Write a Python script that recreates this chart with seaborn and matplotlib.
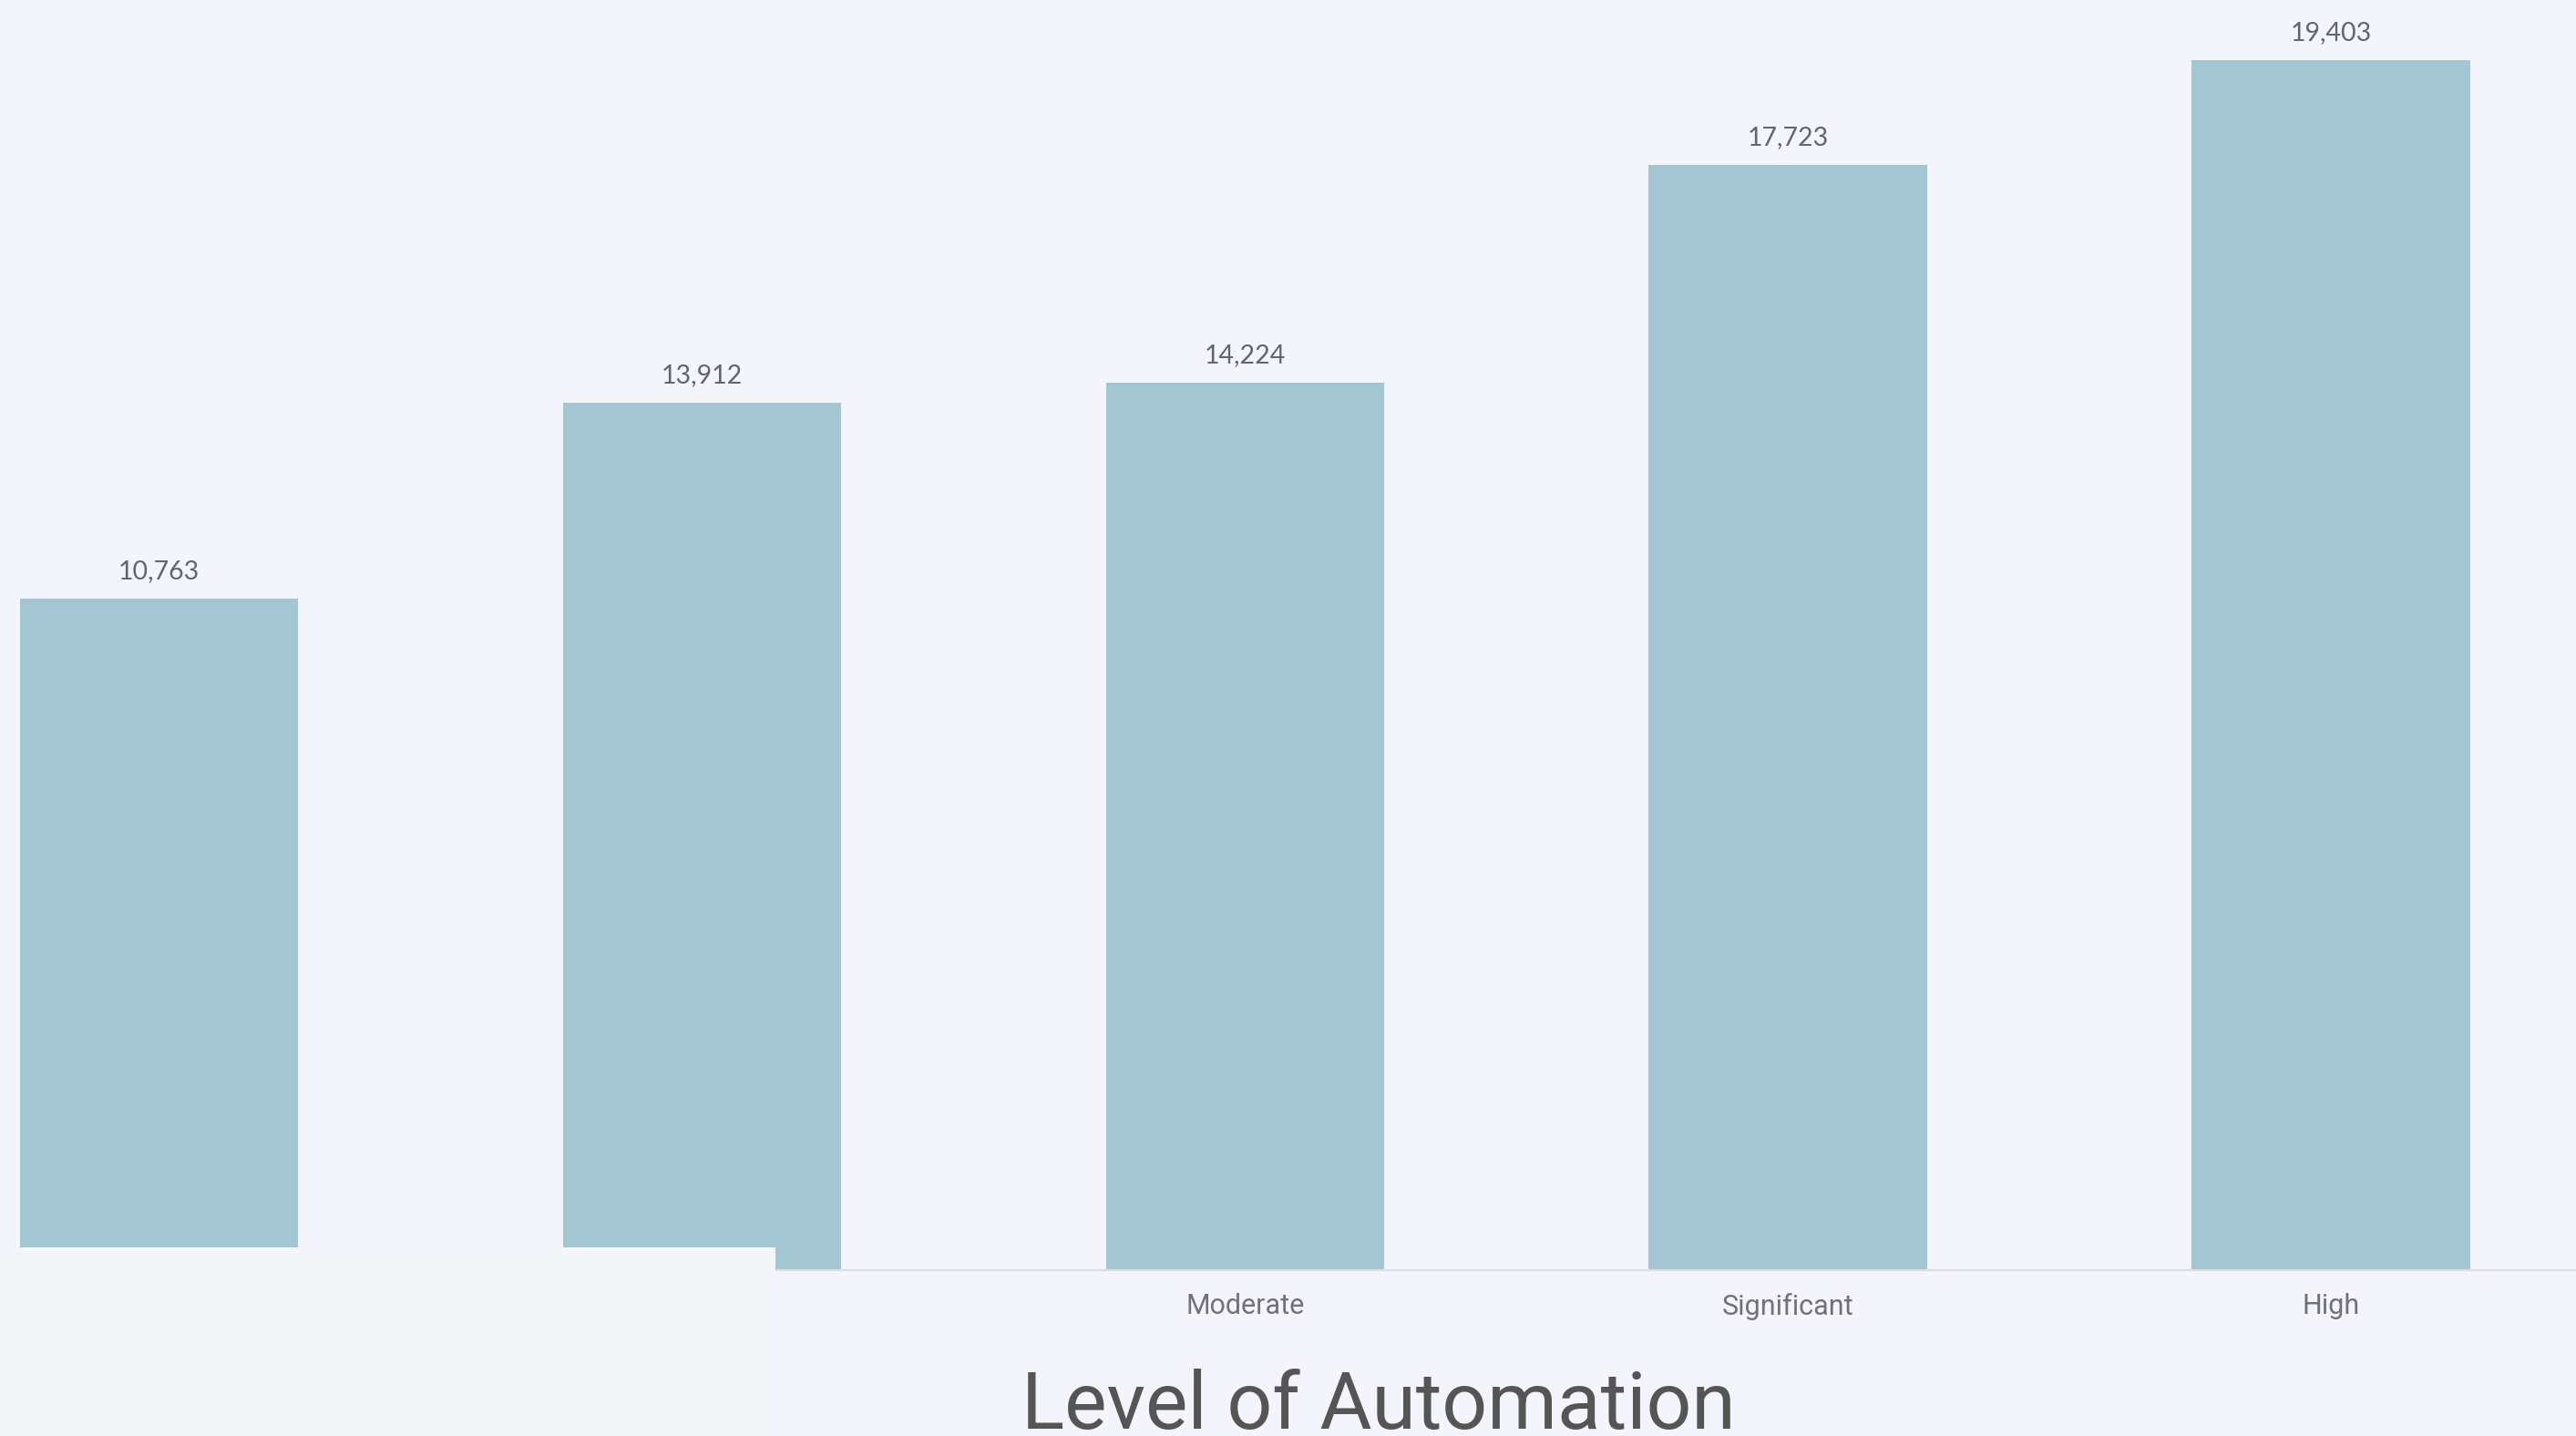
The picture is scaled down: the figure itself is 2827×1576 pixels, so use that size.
import matplotlib
matplotlib.use("Agg")
import matplotlib.pyplot as plt
from matplotlib.patches import Rectangle
import seaborn as sns
import pandas as pd

categories = ["None", "Low", "Moderate", "Significant", "High"]
values = [10763, 13912, 14224, 17723, 19403]
value_labels = ["10,763", "13,912", "14,224", "17,723", "19,403"]

W, H = 2827, 1576
BG = "#f3f4fc"
BAR = "#a3c6d2"

sns.set_theme(style="white")
plt.rcParams["font.family"] = ["Roboto", "DejaVu Sans"]

fig = plt.figure(figsize=(W / 100, H / 100), dpi=100, facecolor=BG)
base_y = 1394
ax = fig.add_axes([0, (H - base_y) / H, 1, base_y / H])
ax.set_facecolor(BG)

df = pd.DataFrame({"level": categories, "count": values})
sns.barplot(data=df, x="level", y="count", order=categories, color=BAR,
            saturation=1, width=0.513, edgecolor="none", ax=ax)

ax.set_xlim(-0.2928, 4.451)
ax.set_ylim(0, 20362)
ax.set_xlabel("")
ax.set_ylabel("")
ax.set_yticks([])
for s in ["top", "left", "right"]:
    ax.spines[s].set_visible(False)
ax.spines["bottom"].set_color("#dcdde2")
ax.spines["bottom"].set_linewidth(1.6)
ax.tick_params(axis="x", length=0, pad=18, labelsize=22, labelcolor="#6f727a")

for i, (v, lab) in enumerate(zip(values, value_labels)):
    ax.annotate(lab, xy=(i, v), xytext=(0, 15.8), textcoords="offset points",
                ha="center", va="baseline", fontsize=20.5, color="#5f6670",
                family=["Lato", "DejaVu Sans"])

# lighter panel in the lower-left corner
fig.add_artist(Rectangle((0, 0), 851 / W, (H - 1369) / H, transform=fig.transFigure,
                         facecolor="#f4f5f9", edgecolor="none", zorder=5))

fig.text(1513 / W, (H - 1568) / H, "Level of Automation", ha="center", va="baseline",
         fontsize=63, color="#555555", zorder=6)

fig.savefig("out.png", dpi=100, facecolor=BG)
